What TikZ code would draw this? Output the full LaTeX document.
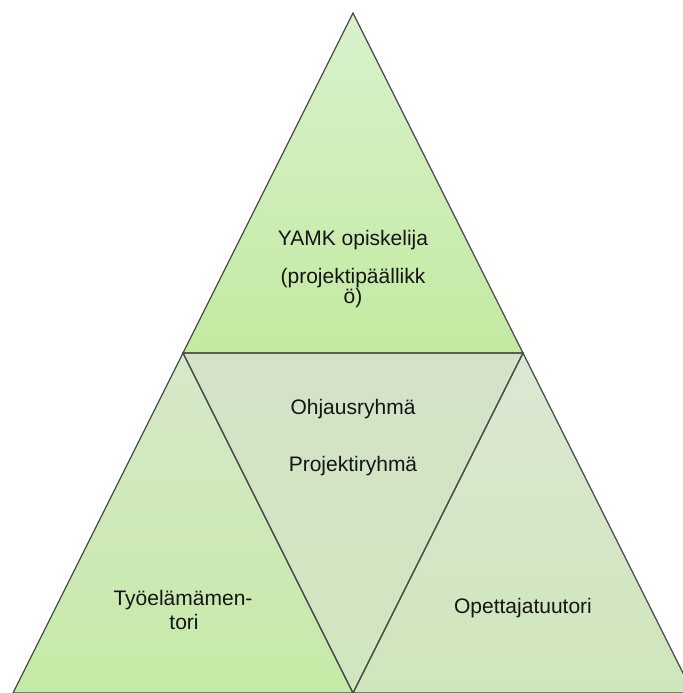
\documentclass[tikz,border=0pt]{standalone}
\usepackage{fontspec}
\setmainfont{Liberation Sans}
\definecolor{linec}{HTML}{4A4A4A}
\definecolor{textc}{HTML}{151515}
\definecolor{topA}{HTML}{D9F1CC}
\definecolor{topB}{HTML}{C3EAA1}
\definecolor{midA}{HTML}{D4E3C8}
\definecolor{midB}{HTML}{D0E6C0}
\definecolor{leftA}{HTML}{D6E8CA}
\definecolor{leftB}{HTML}{C6EAA6}
\definecolor{rightA}{HTML}{DCE7D4}
\definecolor{rightB}{HTML}{CFE6BB}
\begin{document}
\begin{tikzpicture}[x=1bp,y=-1bp,
  edge/.style={draw=linec, line width=1.3bp, line join=miter},
  lbl/.style={font=\fontsize{21bp}{24bp}\selectfont, text=textc, inner sep=0pt, anchor=center}]
\useasboundingbox (0,0) rectangle (683,693);
% corner points of the pyramid
\coordinate (apex) at (353,13);
\coordinate (ml) at (183,353);
\coordinate (mr) at (523,353);
\coordinate (bl) at (13,693);
\coordinate (bm) at (353,693);
\coordinate (br) at (693,693);
\begin{scope}
  \clip (0,0) rectangle (683,693);
  \shade[top color=topA, bottom color=topB] (apex) -- (mr) -- (ml) -- cycle;
  \shade[top color=leftA, bottom color=leftB] (ml) -- (bm) -- (bl) -- cycle;
  \shade[top color=midA, bottom color=midB] (ml) -- (mr) -- (bm) -- cycle;
  \shade[top color=rightA, bottom color=rightB] (mr) -- (br) -- (bm) -- cycle;
  \draw[edge] (apex) -- (mr) -- (ml) -- cycle;
  \draw[edge] (ml) -- (bm) -- (bl) -- cycle;
  \draw[edge] (ml) -- (mr) -- (bm) -- cycle;
  \draw[edge] (mr) -- (br) -- (bm) -- cycle;
\end{scope}
% labels
\node[lbl] (yamk) at (353,240) {YAMK opiskelija};
\node[lbl] (pp1) at (353,278) {(projektipäällikk};
\node[lbl] (pp2) at (353,298) {ö)};
\node[lbl] (ohj) at (353,409) {Ohjausryhmä};
\node[lbl] (proj) at (353,466) {Projektiryhmä};
\node[lbl] (tyo1) at (183,600) {Työelämämen-};
\node[lbl] (tyo2) at (184,622) {tori};
\node[lbl] (ope) at (523,608) {Opettajatuutori};
\end{tikzpicture}
\end{document}
